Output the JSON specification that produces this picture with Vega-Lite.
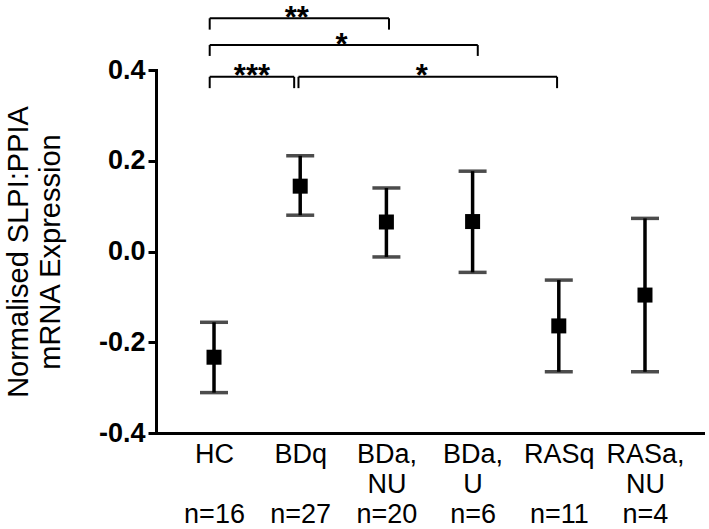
{
  "$schema": "https://vega.github.io/schema/vega-lite/v6.json",
  "autosize": {"type": "none"},
  "width": 547,
  "height": 363,
  "padding": {"left": 156, "top": 70, "right": 6, "bottom": 96},
  "background": "white",
  "config": {
    "view": {"stroke": null},
    "font": "Liberation Sans",
    "axis": {"grid": false, "domainColor": "black", "tickColor": "black", "labelColor": "black", "titleColor": "black", "domainCap": "square"}
  },
  "datasets": {
    "groups": [
      {"group": "HC", "n": "n=16", "pos": 0, "mean": -0.233, "lo": -0.311, "hi": -0.156},
      {"group": "BDq", "n": "n=27", "pos": 1, "mean": 0.144, "lo": 0.080, "hi": 0.211},
      {"group": "BDa, NU", "n": "n=20", "pos": 2, "mean": 0.065, "lo": -0.012, "hi": 0.140},
      {"group": "BDa, U", "n": "n=6", "pos": 3, "mean": 0.066, "lo": -0.046, "hi": 0.177},
      {"group": "RASq", "n": "n=11", "pos": 4, "mean": -0.164, "lo": -0.265, "hi": -0.063},
      {"group": "RASa, NU", "n": "n=4", "pos": 5, "mean": -0.096, "lo": -0.265, "hi": 0.073}
    ],
    "brackets": [
      {"label": "**", "x1": -0.05, "x2": 2.03, "y": 0.514, "yTick": 0.489, "xm": 0.96, "ym": 0.527},
      {"label": "*", "x1": -0.05, "x2": 3.06, "y": 0.455, "yTick": 0.431, "xm": 1.48, "ym": 0.469},
      {"label": "***", "x1": -0.05, "x2": 0.93, "y": 0.385, "yTick": 0.360, "xm": 0.44, "ym": 0.400},
      {"label": "*", "x1": 0.98, "x2": 3.98, "y": 0.385, "yTick": 0.360, "xm": 2.41, "ym": 0.399}
    ]
  },
  "layer": [
    {
      "data": {"name": "groups"},
      "mark": {"type": "rule", "color": "black", "strokeWidth": 3.5},
      "encoding": {
        "x": {
          "field": "pos", "type": "quantitative",
          "scale": {"domain": [-0.673, 5.673], "nice": false, "zero": false},
          "axis": {
            "title": null,
            "values": [0, 1, 2, 3, 4, 5],
            "ticks": false,
            "domainWidth": 3,
            "labelFontSize": 27,
            "labelLineHeight": 30,
            "labelPadding": 8,
            "labelFlush": false,
            "labelOverlap": false,
            "labelExpr": "[['HC','\u200b','n=16'],['BDq','\u200b','n=27'],['BDa,','NU','n=20'],['BDa,','U','n=6'],['RASq','\u200b','n=11'],['RASa,','NU','n=4']][datum.value]"
          }
        },
        "y": {
          "field": "lo", "type": "quantitative",
          "scale": {"domain": [-0.4, 0.4], "nice": false, "zero": false},
          "axis": {
            "title": ["Normalised SLPI:PPIA", "mRNA Expression"],
            "titleFontSize": 29,
            "titleFontWeight": "normal",
            "titleLineHeight": 32,
            "titlePadding": 33,
            "values": [-0.4, -0.2, 0, 0.2, 0.4],
            "labelExpr": "(datum.value < 0 ? '-' : '') + format(abs(datum.value), '.1f')",
            "labelFontSize": 27,
            "labelFontWeight": "bold",
            "labelPadding": 3,
            "tickSize": 8,
            "tickWidth": 3,
            "domainWidth": 3
          }
        },
        "y2": {"field": "hi"}
      }
    },
    {
      "data": {"name": "groups"},
      "mark": {"type": "tick", "orient": "horizontal", "size": 28, "thickness": 3.5, "color": "black"},
      "encoding": {
        "x": {"field": "pos", "type": "quantitative", "scale": {"domain": [-0.673, 5.673], "nice": false, "zero": false}},
        "y": {"field": "lo", "type": "quantitative", "scale": {"domain": [-0.4, 0.4], "nice": false, "zero": false}}
      }
    },
    {
      "data": {"name": "groups"},
      "mark": {"type": "tick", "orient": "horizontal", "size": 28, "thickness": 3.5, "color": "black"},
      "encoding": {
        "x": {"field": "pos", "type": "quantitative", "scale": {"domain": [-0.673, 5.673], "nice": false, "zero": false}},
        "y": {"field": "hi", "type": "quantitative", "scale": {"domain": [-0.4, 0.4], "nice": false, "zero": false}}
      }
    },
    {
      "data": {"name": "groups"},
      "mark": {"type": "square", "size": 225, "color": "black", "opacity": 1, "filled": true},
      "encoding": {
        "x": {"field": "pos", "type": "quantitative", "scale": {"domain": [-0.673, 5.673], "nice": false, "zero": false}},
        "y": {"field": "mean", "type": "quantitative", "scale": {"domain": [-0.4, 0.4], "nice": false, "zero": false}}
      }
    },
    {
      "data": {"name": "brackets"},
      "mark": {"type": "rule", "color": "black", "strokeWidth": 2},
      "encoding": {
        "x": {"field": "x1", "type": "quantitative", "scale": {"domain": [-0.673, 5.673], "nice": false, "zero": false}},
        "x2": {"field": "x2"},
        "y": {"field": "y", "type": "quantitative", "scale": {"domain": [-0.4, 0.4], "nice": false, "zero": false}}
      }
    },
    {
      "data": {"name": "brackets"},
      "mark": {"type": "rule", "color": "black", "strokeWidth": 2},
      "encoding": {
        "x": {"field": "x1", "type": "quantitative", "scale": {"domain": [-0.673, 5.673], "nice": false, "zero": false}},
        "y": {"field": "y", "type": "quantitative", "scale": {"domain": [-0.4, 0.4], "nice": false, "zero": false}},
        "y2": {"field": "yTick"}
      }
    },
    {
      "data": {"name": "brackets"},
      "mark": {"type": "rule", "color": "black", "strokeWidth": 2},
      "encoding": {
        "x": {"field": "x2", "type": "quantitative", "scale": {"domain": [-0.673, 5.673], "nice": false, "zero": false}},
        "y": {"field": "y", "type": "quantitative", "scale": {"domain": [-0.4, 0.4], "nice": false, "zero": false}},
        "y2": {"field": "yTick"}
      }
    },
    {
      "data": {"name": "brackets"},
      "mark": {"type": "text", "fontSize": 31, "fontWeight": "bold", "color": "black", "baseline": "alphabetic", "align": "center", "dy": 16},
      "encoding": {
        "x": {"field": "xm", "type": "quantitative", "scale": {"domain": [-0.673, 5.673], "nice": false, "zero": false}},
        "y": {"field": "ym", "type": "quantitative", "scale": {"domain": [-0.4, 0.4], "nice": false, "zero": false}},
        "text": {"field": "label"}
      }
    }
  ]
}
